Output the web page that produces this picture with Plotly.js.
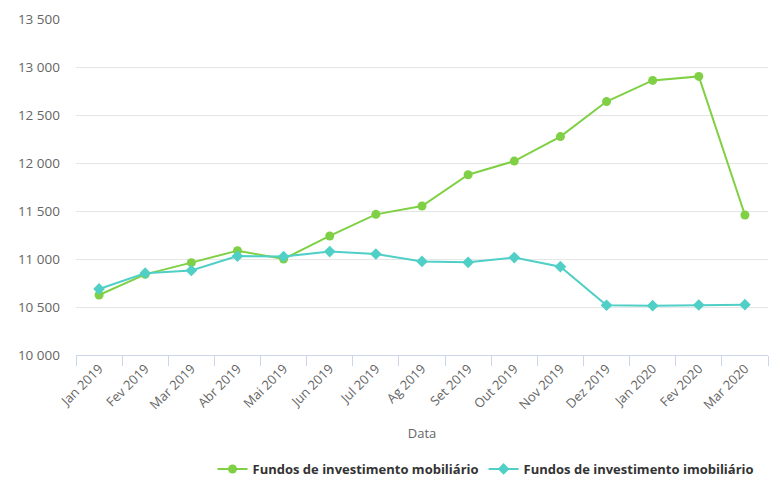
<!DOCTYPE html>
<html>
<head>
<meta charset="utf-8">
<script src="https://cdn.plot.ly/plotly-3.0.1.min.js"></script>
<style>html,body{margin:0;padding:0;background:#fff;}#chart{width:779px;height:484px;}</style>
</head>
<body>
<div id="chart"></div>
<script>
const months = ["Jan 2019","Fev 2019","Mar 2019","Abr 2019","Mai 2019","Jun 2019","Jul 2019","Ag 2019","Set 2019","Out 2019","Nov 2019","Dez 2019","Jan 2020","Fev 2020","Mar 2020"];
const mobiliario = [10625,10840,10962,11087,11000,11240,11465,11552,11878,12020,12275,12640,12860,12902,11458];
const imobiliario = [10688,10852,10880,11030,11025,11077,11052,10975,10965,11015,10920,10518,10514,10521,10524];
const seriesNames = ["Fundos de investimento mobiliário","Fundos de investimento imobiliário"];

const greenC = "#7fd045";
const cyanC = "#4fcfc6";

const traces = [
  {x: months, y: mobiliario, name: seriesNames[0], type: "scatter", mode: "lines+markers",
   line: {color: greenC, width: 2}, marker: {symbol: "circle", size: 9, color: greenC}},
  {x: months, y: imobiliario, name: seriesNames[1], type: "scatter", mode: "lines+markers",
   line: {color: cyanC, width: 2}, marker: {symbol: "diamond", size: 9, color: cyanC}}
];

const layout = {
  width: 779, height: 484,
  margin: {l: 76, r: 11, t: 19, b: 129, autoexpand: false},
  paper_bgcolor: "#fff", plot_bgcolor: "#fff",
  separators: ", ",
  font: {family: "Open Sans, sans-serif", color: "#666", size: 13},
  showlegend: true,
  legend: {orientation: "h", x: 0.975, xanchor: "right", xref: "container",
           y: 0.031, yanchor: "middle", yref: "container",
           font: {size: 13, color: "#333", weight: "bold"}, itemwidth: 30, traceorder: "normal"},
  xaxis: {
    type: "category", tickangle: -45, tickson: "boundaries",
    ticks: "outside", ticklen: 10, tickcolor: "#ccd6eb", tickwidth: 1,
    showline: true, linecolor: "#ccd6eb", linewidth: 1,
    showgrid: false, zeroline: false, automargin: false,
    tickfont: {size: 13, color: "#666"},
    title: {text: "Data", font: {size: 13, color: "#666"}, standoff: 16},
    range: [-0.5, 14.5]
  },
  yaxis: {
    range: [10000, 13500], dtick: 500, tick0: 10000, tickformat: ",d",
    showgrid: true, gridcolor: "#e6e6e6", gridwidth: 1, automargin: false,
    zeroline: false, showline: false, ticks: "",
    tickfont: {size: 13.5, color: "#666"}, ticklabelstandoff: 15
  },
  hovermode: false
};

Plotly.newPlot("chart", traces, layout, {displayModeBar: false, staticPlot: true});
</script>
</body>
</html>
